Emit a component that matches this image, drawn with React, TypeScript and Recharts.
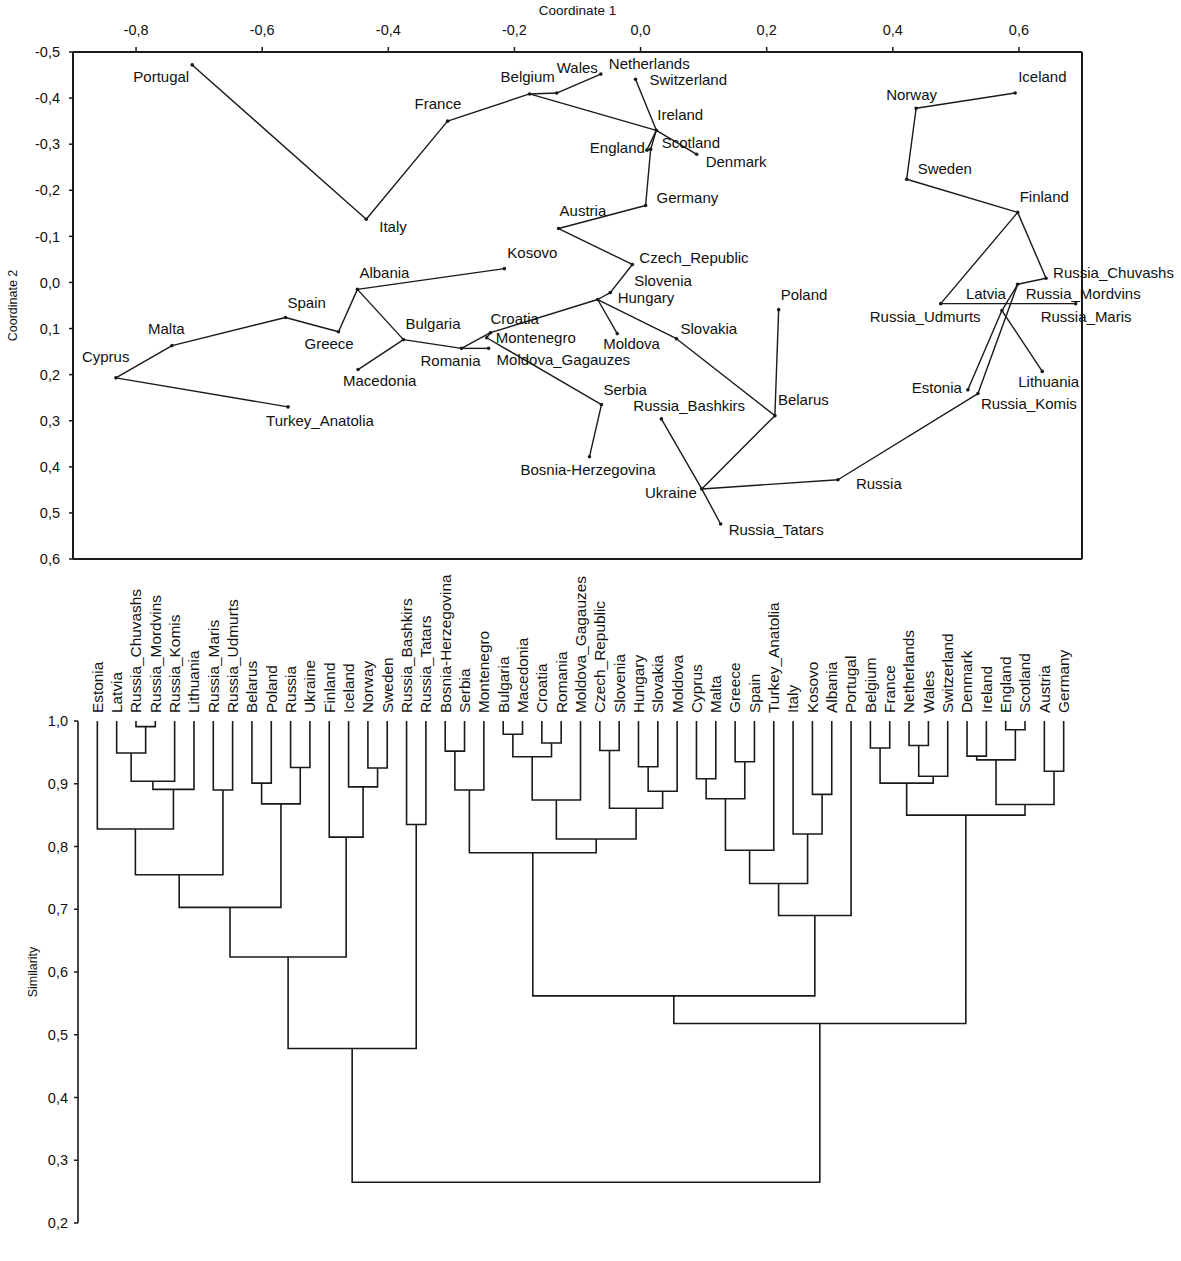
import React from "react";
import { ComposedChart, Scatter, XAxis, YAxis, ReferenceLine, Label } from "recharts";

// Populations in dendrogram leaf order (also used for the PCoA scatter)
const countries = [
  "Estonia", "Latvia", "Russia_Chuvashs", "Russia_Mordvins", "Russia_Komis", "Lithuania",
  "Russia_Maris", "Russia_Udmurts", "Belarus", "Poland", "Russia", "Ukraine", "Finland",
  "Iceland", "Norway", "Sweden", "Russia_Bashkirs", "Russia_Tatars", "Bosnia-Herzegovina",
  "Serbia", "Montenegro", "Bulgaria", "Macedonia", "Croatia", "Romania", "Moldova_Gagauzes",
  "Czech_Republic", "Slovenia", "Hungary", "Slovakia", "Moldova", "Cyprus", "Malta", "Greece",
  "Spain", "Turkey_Anatolia", "Italy", "Kosovo", "Albania", "Portugal", "Belgium", "France",
  "Netherlands", "Wales", "Switzerland", "Denmark", "Ireland", "England", "Scotland",
  "Austria", "Germany",
];

const coord1 = [
  0.519, 0.573, 0.643, 0.598, 0.535, 0.637, 0.69, 0.476, 0.213, 0.219, 0.313, 0.097, 0.598,
  0.594, 0.437, 0.422, 0.033, 0.127, -0.081, -0.062, -0.244, -0.376, -0.448, -0.238, -0.284,
  -0.241, -0.013, -0.048, -0.068, 0.057, -0.037, -0.832, -0.743, -0.479, -0.563, -0.559,
  -0.435, -0.216, -0.449, -0.711, -0.176, -0.306, -0.063, -0.133, -0.008, 0.089, 0.025,
  0.01, 0.016, -0.13, 0.008,
];

const coord2 = [
  0.233, 0.061, -0.009, 0.004, 0.241, 0.193, 0.046, 0.046, 0.289, 0.059, 0.428, 0.448, -0.152,
  -0.411, -0.378, -0.224, 0.296, 0.524, 0.378, 0.265, 0.12, 0.124, 0.189, 0.109, 0.143, 0.143,
  -0.039, 0.022, 0.037, 0.122, 0.111, 0.207, 0.137, 0.107, 0.076, 0.27, -0.137, -0.03, 0.015,
  -0.472, -0.409, -0.35, -0.452, -0.411, -0.441, -0.278, -0.33, -0.287, -0.289, -0.117, -0.167,
];

// minimum spanning tree links
const mstEdges: [string, string][] = [
  ["Portugal", "Italy"], ["Italy", "France"], ["France", "Belgium"], ["Belgium", "Wales"],
  ["Wales", "Netherlands"], ["Belgium", "Ireland"], ["Ireland", "Denmark"],
  ["Switzerland", "Ireland"], ["Ireland", "England"], ["Ireland", "Scotland"],
  ["England", "Scotland"], ["Scotland", "Germany"], ["Germany", "Austria"],
  ["Austria", "Czech_Republic"], ["Czech_Republic", "Slovenia"], ["Slovenia", "Hungary"],
  ["Hungary", "Moldova"], ["Hungary", "Slovakia"], ["Slovakia", "Belarus"],
  ["Belarus", "Poland"], ["Belarus", "Ukraine"], ["Ukraine", "Russia_Bashkirs"],
  ["Ukraine", "Russia_Tatars"], ["Ukraine", "Russia"], ["Russia", "Russia_Komis"],
  ["Russia_Komis", "Russia_Mordvins"], ["Estonia", "Latvia"], ["Latvia", "Russia_Mordvins"],
  ["Latvia", "Lithuania"], ["Russia_Mordvins", "Russia_Chuvashs"],
  ["Russia_Chuvashs", "Finland"], ["Finland", "Russia_Udmurts"],
  ["Russia_Udmurts", "Russia_Maris"], ["Finland", "Sweden"], ["Sweden", "Norway"],
  ["Norway", "Iceland"], ["Kosovo", "Albania"], ["Albania", "Greece"], ["Greece", "Spain"],
  ["Spain", "Malta"], ["Malta", "Cyprus"], ["Cyprus", "Turkey_Anatolia"],
  ["Albania", "Bulgaria"], ["Bulgaria", "Macedonia"], ["Bulgaria", "Romania"],
  ["Romania", "Moldova_Gagauzes"], ["Romania", "Croatia"], ["Croatia", "Hungary"],
  ["Croatia", "Montenegro"], ["Montenegro", "Serbia"], ["Serbia", "Bosnia-Herzegovina"],
];

// UPGMA merges: [left, right, similarity]; "mN" refers to the N-th merge
const merges: [string, string, number][] = [
  ["Russia_Chuvashs", "Russia_Mordvins", 0.991], ["Latvia", "m0", 0.949],
  ["m1", "Russia_Komis", 0.904], ["m2", "Lithuania", 0.891], ["Estonia", "m3", 0.828],
  ["Russia_Maris", "Russia_Udmurts", 0.89], ["m4", "m5", 0.755], ["Belarus", "Poland", 0.901],
  ["Russia", "Ukraine", 0.926], ["m7", "m8", 0.868], ["m6", "m9", 0.703],
  ["Norway", "Sweden", 0.925], ["Iceland", "m11", 0.895], ["Finland", "m12", 0.815],
  ["m10", "m13", 0.624], ["Russia_Bashkirs", "Russia_Tatars", 0.835], ["m14", "m15", 0.478],
  ["Bosnia-Herzegovina", "Serbia", 0.952], ["m17", "Montenegro", 0.89],
  ["Bulgaria", "Macedonia", 0.979], ["Croatia", "Romania", 0.965], ["m19", "m20", 0.943],
  ["m21", "Moldova_Gagauzes", 0.874], ["Czech_Republic", "Slovenia", 0.953],
  ["Hungary", "Slovakia", 0.927], ["m24", "Moldova", 0.888], ["m23", "m25", 0.861],
  ["m22", "m26", 0.812], ["m18", "m27", 0.79], ["Cyprus", "Malta", 0.908],
  ["Greece", "Spain", 0.935], ["m29", "m30", 0.876], ["m31", "Turkey_Anatolia", 0.794],
  ["Kosovo", "Albania", 0.883], ["Italy", "m33", 0.82], ["m32", "m34", 0.741],
  ["m35", "Portugal", 0.69], ["m28", "m36", 0.562], ["Belgium", "France", 0.957],
  ["Netherlands", "Wales", 0.961], ["m39", "Switzerland", 0.912], ["m38", "m40", 0.901],
  ["Denmark", "Ireland", 0.944], ["England", "Scotland", 0.986], ["m42", "m43", 0.938],
  ["Austria", "Germany", 0.92], ["m44", "m45", 0.867], ["m41", "m46", 0.85],
  ["m37", "m47", 0.518], ["m16", "m48", 0.265],
];

const coordXTicks = [-0.8, -0.6, -0.4, -0.2, 0, 0.2, 0.4, 0.6];
const coordYTicks = [-0.5, -0.4, -0.3, -0.2, -0.1, 0, 0.1, 0.2, 0.3, 0.4, 0.5, 0.6];
const simTicks = [0.2, 0.3, 0.4, 0.5, 0.6, 0.7, 0.8, 0.9, 1.0];

// label placement next to each point: [dx, dy, anchor] in px
const labelAt: Record<string, [number, number, "start" | "end"]> = {
  Portugal: [-3, 12, "end"], Italy: [13, 7, "start"], France: [-33, -17, "start"],
  Belgium: [-29, -17, "start"], Wales: [0, -25, "start"], Netherlands: [8, -10, "start"],
  Switzerland: [14, 1, "start"], Ireland: [1, -16, "start"], Scotland: [11, -7, "start"],
  England: [-2, -2, "end"], Denmark: [9, 7, "start"], Germany: [11, -8, "start"],
  Austria: [1, -18, "start"], Czech_Republic: [7, -7, "start"], Slovenia: [24, -12, "start"],
  Hungary: [20, -2, "start"], Moldova: [-14, 10, "start"], Slovakia: [4, -10, "start"],
  Kosovo: [3, -16, "start"], Albania: [2, -17, "start"], Spain: [2, -15, "start"],
  Greece: [-34, 12, "start"], Malta: [-24, -17, "start"], Cyprus: [-34, -21, "start"],
  Turkey_Anatolia: [-22, 14, "start"], Bulgaria: [2, -16, "start"],
  Macedonia: [-15, 11, "start"], Romania: [-41, 12, "start"], Croatia: [0, -14, "start"],
  Montenegro: [9, 0, "start"], Moldova_Gagauzes: [8, 11, "start"], Serbia: [2, -15, "start"],
  "Bosnia-Herzegovina": [-69, 13, "start"], Russia_Bashkirs: [-28, -13, "start"],
  Belarus: [3, -16, "start"], Poland: [2, -15, "start"], Ukraine: [-5, 4, "end"],
  Russia_Tatars: [8, 6, "start"], Russia: [18, 4, "start"], Russia_Komis: [3, 10, "start"],
  Estonia: [-6, -2, "end"], Lithuania: [-24, 10, "start"], Russia_Udmurts: [-71, 13, "start"],
  Latvia: [-36, -17, "start"], Russia_Mordvins: [8, 9, "start"], Russia_Maris: [-35, 13, "start"],
  Russia_Chuvashs: [7, -6, "start"], Finland: [2, -16, "start"], Sweden: [11, -10, "start"],
  Norway: [-30, -13, "start"], Iceland: [3, -16, "start"],
};

const FONT = "'Liberation Sans', Arial, sans-serif";
const INK = "#1a1a1a";
const comma = (v: number) => v.toFixed(1).replace(".", ",");

const points = countries.map((name, i) => ({ name, x: coord1[i], y: coord2[i] }));
const byName: Record<string, { x: number; y: number }> = {};
points.forEach((p) => (byName[p.name] = p));

// dendrogram geometry from merge list
const nodeX: Record<string, number> = {};
const nodeH: Record<string, number> = {};
countries.forEach((n, i) => {
  nodeX[n] = i;
  nodeH[n] = 1;
});
const mergePaths = merges.map(([a, b, s], i) => {
  nodeX["m" + i] = (nodeX[a] + nodeX[b]) / 2;
  nodeH["m" + i] = s;
  return [
    { x: nodeX[a], y: nodeH[a] },
    { x: nodeX[a], y: s },
    { x: nodeX[b], y: s },
    { x: nodeX[b], y: nodeH[b] },
  ];
});

const PointWithLabel = (props: any) => {
  const { cx, cy, payload } = props;
  const [dx, dy, anchor] = labelAt[payload.name] || [4, -10, "start"];
  return (
    <g>
      <circle cx={cx} cy={cy} r={1.8} fill={INK} />
      <text x={cx + dx} y={cy + dy} dy="0.35em" textAnchor={anchor} fontSize={15} fontFamily={FONT} fill="#111">
        {payload.name}
      </text>
    </g>
  );
};

const LeafTick = (props: any) => {
  const { x, y, payload } = props;
  return (
    <text
      x={x}
      y={y}
      dy="0.35em"
      transform={`rotate(-90, ${x}, ${y})`}
      textAnchor="start"
      fontSize={15.4}
      fontFamily={FONT}
      fill="#111"
    >
      {countries[payload.value]}
    </text>
  );
};

const tickStyle = { fontSize: 14.5, fontFamily: FONT, fill: "#111" };

function CoordinatePlot() {
  return (
    <ComposedChart width={1181} height={580} margin={{ top: 0, right: 99, bottom: 21, left: 0 }}>
      <XAxis
        type="number"
        dataKey="x"
        orientation="top"
        domain={[-0.9, 0.7]}
        ticks={coordXTicks}
        tickFormatter={comma}
        height={52}
        tickSize={5}
        tickMargin={12}
        tick={tickStyle}
        axisLine={{ stroke: INK, strokeWidth: 2 }}
        tickLine={{ stroke: INK, strokeWidth: 1.5 }}
      >
        <Label
          content={(p: any) => {
            const vb = p.viewBox || { x: 73, y: 0, width: 1009 };
            return (
              <text x={vb.x + vb.width / 2} y={10} dy="0.35em" textAnchor="middle" fontSize={13.5} fontFamily={FONT} fill="#111">
                Coordinate 1
              </text>
            );
          }}
        />
      </XAxis>
      <YAxis
        type="number"
        dataKey="y"
        domain={[-0.5, 0.6]}
        reversed
        ticks={coordYTicks}
        tickFormatter={comma}
        width={73}
        tickSize={4}
        tickMargin={9}
        tick={tickStyle}
        axisLine={{ stroke: INK, strokeWidth: 2 }}
        tickLine={{ stroke: INK, strokeWidth: 1.5 }}
      >
        <Label
          content={(p: any) => {
            const vb = p.viewBox || { y: 52, height: 507 };
            const cy = vb.y + vb.height / 2;
            return (
              <text x={13} y={cy} dy="0.35em" transform={`rotate(-90, 13, ${cy})`} textAnchor="middle" fontSize={12.5} fontFamily={FONT} fill="#111">
                Coordinate 2
              </text>
            );
          }}
        />
      </YAxis>
      <ReferenceLine x={0.7} stroke={INK} strokeWidth={2} ifOverflow="visible" />
      <ReferenceLine y={0.6} stroke={INK} strokeWidth={2} ifOverflow="visible" />
      {mstEdges.map(([a, b]) => (
        <ReferenceLine
          key={a + b}
          segment={[
            { x: byName[a].x, y: byName[a].y },
            { x: byName[b].x, y: byName[b].y },
          ]}
          stroke={INK}
          strokeWidth={1.4}
          ifOverflow="visible"
        />
      ))}
      <Scatter data={points} dataKey="y" shape={<PointWithLabel />} isAnimationActive={false} />
    </ComposedChart>
  );
}

function Dendrogram() {
  return (
    <ComposedChart width={1181} height={678} margin={{ top: 9, right: 98, bottom: 17, left: 18 }}>
      <XAxis
        type="number"
        dataKey="x"
        orientation="top"
        domain={[-1, 51]}
        ticks={countries.map((_, i) => i)}
        interval={0}
        height={150}
        axisLine={false}
        tickLine={false}
        tickSize={0}
        tickMargin={8}
        tick={<LeafTick />}
      />
      <YAxis
        type="number"
        dataKey="y"
        domain={[0.2, 1.0]}
        ticks={simTicks}
        tickFormatter={comma}
        width={60}
        tickSize={4}
        tickMargin={6}
        tick={tickStyle}
        axisLine={{ stroke: INK, strokeWidth: 1.6 }}
        tickLine={{ stroke: INK, strokeWidth: 1.5 }}
      >
        <Label
          content={(p: any) => {
            const vb = p.viewBox || { y: 159, height: 502 };
            const cy = vb.y + vb.height / 2;
            return (
              <text x={33} y={cy} dy="0.35em" transform={`rotate(-90, 33, ${cy})`} textAnchor="middle" fontSize={12.5} fontFamily={FONT} fill="#111">
                Similarity
              </text>
            );
          }}
        />
      </YAxis>
      {mergePaths.map((pts, i) => (
        <Scatter
          key={i}
          data={pts}
          dataKey="y"
          line={{ stroke: INK, strokeWidth: 1.6 }}
          lineType="joint"
          shape={() => <g />}
          isAnimationActive={false}
        />
      ))}
    </ComposedChart>
  );
}

export default function App() {
  return (
    <div style={{ position: "absolute", left: 0, top: 0, width: 1181, height: 1261, background: "#fff" }}>
      <div style={{ position: "absolute", left: 0, top: 0 }}>
        <CoordinatePlot />
      </div>
      <div style={{ position: "absolute", left: 0, top: 562 }}>
        <Dendrogram />
      </div>
    </div>
  );
}
